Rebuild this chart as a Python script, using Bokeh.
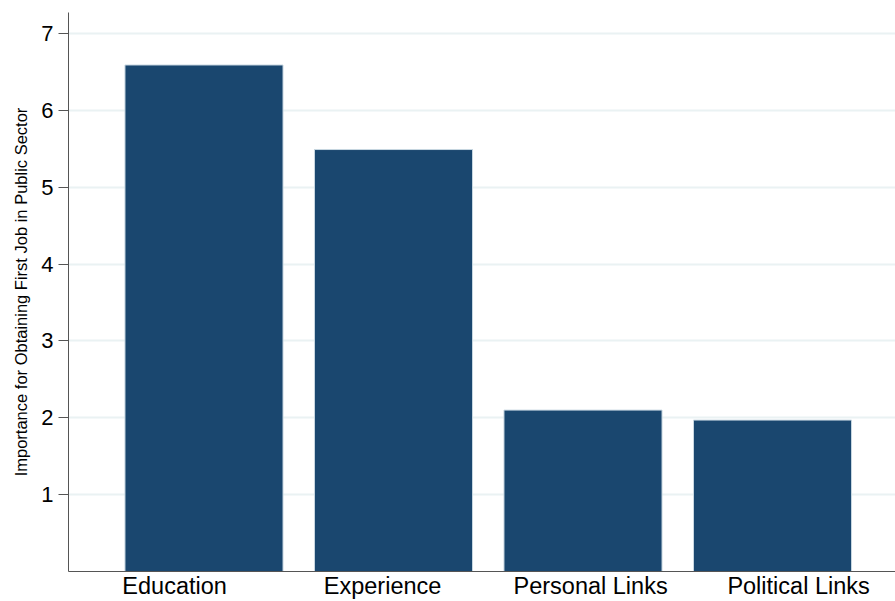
from bokeh.plotting import figure
from bokeh.models import Range1d, FixedTicker, LinearAxis
from bokeh.embed import file_html
from bokeh.resources import INLINE

categories = ["Education", "Experience", "Personal Links", "Political Links"]
importance = [6.59, 5.49, 2.10, 1.97]
y_ticks = [1, 2, 3, 4, 5, 6, 7]

positions = list(range(1, len(categories) + 1))

p = figure(width=895, height=601, output_backend="svg", toolbar_location=None,
           x_range=Range1d(0.285, 4.649), y_range=Range1d(0, 7.273),
           x_axis_location=None,
           min_border_left=68, min_border_right=0, min_border_top=12, min_border_bottom=30)

# category labels sit on their own spacing, as in the original graph
p.extra_x_ranges = {"labels": Range1d(0.49, 4.466)}

p.vbar(x=positions, top=importance, width=0.834, bottom=0,
       fill_color="#1a476f", line_color="#c9d8e2", line_width=1)

p.outline_line_color = None
p.background_fill_color = "white"
p.border_fill_color = "white"

p.xgrid.grid_line_color = None
p.ygrid.ticker = FixedTicker(ticks=y_ticks)
p.ygrid.grid_line_color = "#eaf2f3"
p.ygrid.grid_line_width = 2

font = "Liberation Sans"

xaxis = LinearAxis(x_range_name="labels", ticker=FixedTicker(ticks=positions))
xaxis.major_label_overrides = {pos: c for pos, c in zip(positions, categories)}
xaxis.major_tick_line_color = None
xaxis.minor_tick_line_color = None
xaxis.major_tick_out = 0
xaxis.major_tick_in = 0
xaxis.major_label_standoff = 1
xaxis.major_label_text_font = font
xaxis.major_label_text_font_size = "23.5px"
xaxis.major_label_text_color = "black"
xaxis.axis_line_color = "#555555"
xaxis.axis_line_width = 1
p.add_layout(xaxis, "below")

p.yaxis.ticker = FixedTicker(ticks=y_ticks)
p.yaxis.major_tick_out = 10
p.yaxis.major_tick_in = 0
p.yaxis.minor_tick_line_color = None
p.yaxis.major_tick_line_color = "#555555"
p.yaxis.axis_line_color = "#555555"
p.yaxis.major_label_standoff = 5
p.yaxis.major_label_text_font = font
p.yaxis.major_label_text_font_size = "22px"
p.yaxis.major_label_text_color = "black"
p.yaxis.major_label_orientation = "horizontal"
p.yaxis.axis_label = "Importance for Obtaining First Job in Public Sector"
p.yaxis.axis_label_text_font = font
p.yaxis.axis_label_text_font_size = "16.5px"
p.yaxis.axis_label_text_font_style = "normal"
p.yaxis.axis_label_text_color = "black"
p.yaxis.axis_label_standoff = 8

open("out.html", "w").write(file_html(p, INLINE))
